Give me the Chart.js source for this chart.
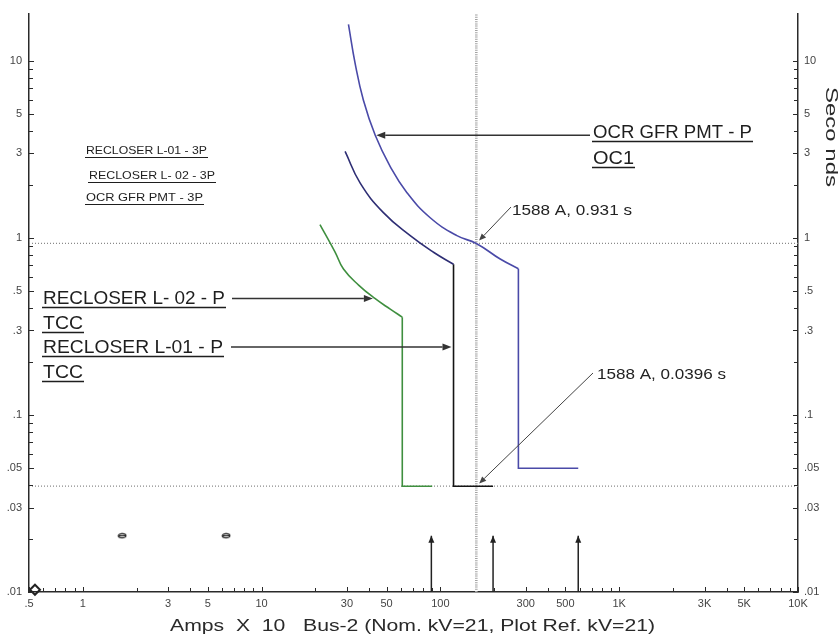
<!DOCTYPE html>
<html>
<head>
<meta charset="utf-8">
<title>TCC - Bus-2</title>
<script src="https://cdn.jsdelivr.net/npm/chart.js@4.4.1/dist/chart.umd.min.js"></script>
<style>
  html, body { margin: 0; padding: 0; background: #fff; }
  canvas { display: block; }
</style>
</head>
<body>
<canvas id="tcc" width="840" height="639"></canvas>
<script>
// ---- axis tick labels (current in Amps x 10, time in seconds) ----
const xTickValues = [0.5, 1, 3, 5, 10, 30, 50, 100, 300, 500, 1000, 3000, 5000, 10000];
const xTickLabels = ['.5', '1', '3', '5', '10', '30', '50', '100', '300', '500', '1K', '3K', '5K', '10K'];
const yTickValues = [0.01, 0.03, 0.05, 0.1, 0.3, 0.5, 1, 3, 5, 10];
const yTickLabels = ['.01', '.03', '.05', '.1', '.3', '.5', '1', '3', '5', '10'];

// ---- relay / recloser curves (Amps x 10, seconds) ----
// inverse-time part up to the knee index, then the definite-time step
const ocrAmps = [30.6, 33.4, 37.1, 43.2, 52.4, 65, 87.7, 123.7, 158.8, 216, 273, 273, 590];
const ocrSecs = [16.1, 9.6, 6.0, 3.8, 2.53, 1.80, 1.30, 1.03, 0.931, 0.76, 0.67, 0.05, 0.05];
const ocrKnee = 10;

const l01Amps = [29.3, 35.6, 48.0, 67.8, 91.5, 118.4, 118.4, 197];
const l01Secs = [3.08, 2.04, 1.39, 1.03, 0.83, 0.71, 0.0396, 0.0396];
const l01Knee = 5;

const l02Amps = [21.2, 25.8, 28.7, 35, 43, 52.4, 61.2, 61.2, 90];
const l02Secs = [1.19, 0.83, 0.667, 0.54, 0.455, 0.396, 0.357, 0.0396, 0.0396];
const l02Knee = 6;

// ---- fault current marker and operating times ----
const faultAmps = 158.8;
const faultSecs = [0.931, 0.0396];

// ---- short-circuit arrows along the current axis ----
const busArrowAmps = [89, 197, 590];
const busArrowSecs = 0.0208;

// ---- small symbols near the bottom ----
const ovalAmps = [1.66, 6.33];
const ovalSecs = [0.0208, 0.0208];
const diamondAmps = [0.54];
const diamondSecs = [0.0103];

// ---- curve names ----
const legendNames = ['RECLOSER L-01 - 3P', 'RECLOSER L- 02 - 3P', 'OCR GFR PMT - 3P'];

const FONT = '"Liberation Sans", Arial, sans-serif';

function pts(xs, ys) { return xs.map((x, i) => ({ x: x, y: ys[i] })); }

function decadeTicks(min, max) {
  const out = [];
  for (let e = Math.floor(Math.log10(min)); e <= Math.ceil(Math.log10(max)); e++) {
    for (let m = 1; m <= 9; m++) {
      const v = +(m * Math.pow(10, e)).toPrecision(6);
      if (v >= min * 0.9999 && v <= max * 1.0001) out.push(v);
    }
  }
  return out;
}
function labelFor(values, labels, v) {
  const i = values.findIndex(t => Math.abs(t - v) / t < 1e-6);
  return i >= 0 ? labels[i] : '';
}

// hollow oval symbol with a bar through it
const ovalImg = (() => {
  const c = document.createElement('canvas');
  c.width = 10; c.height = 7;
  const g = c.getContext('2d');
  g.strokeStyle = '#222'; g.lineWidth = 1.2;
  g.beginPath(); g.ellipse(5, 3.5, 3.8, 2.2, 0, 0, Math.PI * 2); g.stroke();
  g.beginPath(); g.moveTo(1.5, 3.5); g.lineTo(8.5, 3.5); g.stroke();
  return c;
})();

// each curve = smooth inverse part + straight step part
function curve(label, xs, ys, knee, colorCurve, colorStep) {
  const all = pts(xs, ys);
  const base = { showLine: true, pointRadius: 0, borderWidth: 1.6, fill: false, order: 1 };
  return [
    Object.assign({ label: label, data: all.slice(0, knee + 1), borderColor: colorCurve, tension: 0.45 }, base),
    Object.assign({ label: label + ' step', data: all.slice(knee), borderColor: colorStep, tension: 0 }, base)
  ];
}

const datasets = [
  ...curve('OCR GFR PMT - P OC1', ocrAmps, ocrSecs, ocrKnee, '#4a4aa8', '#4a4aa8'),
  ...curve('RECLOSER L-01 - P TCC', l01Amps, l01Secs, l01Knee, '#2e2e74', '#141414'),
  ...curve('RECLOSER L- 02 - P TCC', l02Amps, l02Secs, l02Knee, '#3f8f3f', '#3f8f3f'),
  { label: 'fault current', data: [{ x: faultAmps, y: 0.01 }, { x: faultAmps, y: 18.5 }], showLine: true, pointRadius: 0,
    borderColor: '#a2a2a2', borderWidth: 2.6, borderDash: [1, 1.2], order: 5 },
  ...faultSecs.map(t => ({ label: 'time ' + t, data: [{ x: 0.5, y: t }, { x: 10000, y: t }], showLine: true, pointRadius: 0,
    borderColor: '#8a8a8a', borderWidth: 1.2, borderDash: [1, 2], order: 5 })),
  ...busArrowAmps.map(a => ({ label: 'fault ' + a, data: [{ x: a, y: 0.01 }, { x: a, y: busArrowSecs }], showLine: true, pointRadius: 0,
    borderColor: '#222', borderWidth: 1.5, order: 2 })),
  { label: 'ovals', data: pts(ovalAmps, ovalSecs), showLine: false, pointStyle: ovalImg, pointRadius: 4, order: 2 },
  { label: 'diamond', data: pts(diamondAmps, diamondSecs), showLine: false, pointStyle: 'rectRot', pointRadius: 5,
    borderColor: '#222', borderWidth: 2, backgroundColor: 'rgba(0,0,0,0)', clip: false, order: 2 }
];

function logAxis(extra) {
  return Object.assign({
    type: 'logarithmic',
    border: { display: true, color: '#2a2a2a', width: 1.5 },
    grid: { display: true, drawOnChartArea: false, drawTicks: false },
  }, extra);
}

function drawLabel(g, str, x, baseline, size, width, underline, color) {
  g.save();
  g.font = size + 'px ' + FONT;
  const w = g.measureText(str).width;
  const sx = width / w;
  g.fillStyle = color;
  g.textAlign = 'left';
  g.textBaseline = 'alphabetic';
  g.translate(x, baseline);
  g.scale(sx, 1);
  g.fillText(str, 0, 0);
  g.restore();
  if (underline) {
    g.save();
    g.strokeStyle = color;
    g.lineWidth = size > 14 ? 1.4 : 1;
    g.beginPath();
    g.moveTo(x - 1, baseline + underline);
    g.lineTo(x + width + 1, baseline + underline);
    g.stroke();
    g.restore();
  }
}

function arrow(g, x0, y0, x1, y1, head, half, color, lw) {
  const a = Math.atan2(y1 - y0, x1 - x0);
  const bx = x1 - head * Math.cos(a), by = y1 - head * Math.sin(a);
  g.save();
  g.strokeStyle = color; g.fillStyle = color; g.lineWidth = lw;
  g.beginPath(); g.moveTo(x0, y0); g.lineTo(bx, by); g.stroke();
  g.beginPath();
  g.moveTo(x1, y1);
  g.lineTo(bx - half * Math.sin(a), by + half * Math.cos(a));
  g.lineTo(bx + half * Math.sin(a), by - half * Math.cos(a));
  g.closePath(); g.fill();
  g.restore();
}

const paper = {
  id: 'paper',
  beforeDraw(c) {
    const g = c.ctx;
    g.save(); g.fillStyle = '#fff'; g.fillRect(0, 0, c.width, c.height); g.restore();
  }
};

const overlay = {
  id: 'overlay',
  afterDraw(c) {
    const g = c.ctx;
    const xs = c.scales.x, ys = c.scales.y, yr = c.scales.yRight;
    const area = c.chartArea;
    const ink = '#1e1e1e';

    // tick marks pointing into the plot
    g.save();
    g.strokeStyle = '#2a2a2a'; g.lineWidth = 1;
    xs.ticks.forEach(t => {
      const p = Math.round(xs.getPixelForValue(t.value)) + 0.5;
      const len = labelFor(xTickValues, xTickLabels, t.value) ? 5 : 4;
      g.beginPath(); g.moveTo(p, area.bottom); g.lineTo(p, area.bottom - len); g.stroke();
    });
    ys.ticks.forEach(t => {
      const p = Math.round(ys.getPixelForValue(t.value)) + 0.5;
      const len = labelFor(yTickValues, yTickLabels, t.value) ? 5 : 4;
      g.beginPath(); g.moveTo(area.left, p); g.lineTo(area.left + len, p); g.stroke();
    });
    yr.ticks.forEach(t => {
      const p = Math.round(yr.getPixelForValue(t.value)) + 0.5;
      const len = labelFor(yTickValues, yTickLabels, t.value) ? 5 : 4;
      g.beginPath(); g.moveTo(area.right, p); g.lineTo(area.right - len, p); g.stroke();
    });
    g.restore();

    // arrowheads on the short-circuit markers
    g.save(); g.fillStyle = '#222';
    busArrowAmps.forEach(a => {
      const px = xs.getPixelForValue(a), py = ys.getPixelForValue(busArrowSecs);
      g.beginPath(); g.moveTo(px, py); g.lineTo(px - 3, py + 7); g.lineTo(px + 3, py + 7); g.closePath(); g.fill();
    });
    g.restore();

    // curve names (top-left)
    drawLabel(g, legendNames[0], 86, 154, 11, 121, 3.5, ink);
    drawLabel(g, legendNames[1], 89, 179, 11, 126, 3.5, ink);
    drawLabel(g, legendNames[2], 86, 201, 11, 117, 3.5, ink);

    // callout: OCR GFR PMT - P / OC1
    const ocrTipX = xs.getPixelForValue(ocrAmps[3]), ocrTipY = ys.getPixelForValue(ocrSecs[3]);
    arrow(g, 590, ocrTipY, ocrTipX + 1, ocrTipY, 9, 3.5, '#333', 1.5);
    drawLabel(g, 'OCR GFR PMT - P', 593, 138, 18, 159, 3.5, ink);
    drawLabel(g, 'OC1', 593, 164, 18, 41, 3.5, ink);

    // callout: RECLOSER L- 02 - P / TCC
    const l02TipX = xs.getPixelForValue(l02Amps[4]), l02TipY = ys.getPixelForValue(l02Secs[4]);
    arrow(g, 232, l02TipY, l02TipX - 2, l02TipY, 9, 3.5, '#333', 1.5);
    drawLabel(g, 'RECLOSER L- 02 - P', 43, 304, 18, 182, 3.5, ink);
    drawLabel(g, 'TCC', 43, 329, 18, 40, 3.5, ink);

    // callout: RECLOSER L-01 - P / TCC (points at the instantaneous drop)
    const l01TipX = xs.getPixelForValue(l01Amps[l01Knee]);
    arrow(g, 231, 347, l01TipX - 2, 347, 9, 3.5, '#333', 1.5);
    drawLabel(g, 'RECLOSER L-01 - P', 43, 353, 18, 180, 3.5, ink);
    drawLabel(g, 'TCC', 43, 378, 18, 40, 3.5, ink);

    // operating-time readouts at the fault current
    const fx = xs.getPixelForValue(faultAmps);
    const readouts = [
      { sx: 511, sy: 207, tx: 512, tb: 215, w: 120 },
      { sx: 593, sy: 373, tx: 597, tb: 379, w: 129 }
    ];
    faultSecs.forEach((t, i) => {
      const r = readouts[i];
      const fy = ys.getPixelForValue(t);
      const d = Math.hypot(fx - r.sx, fy - r.sy);
      const ex = fx - (fx - r.sx) / d * 4, ey = fy - (fy - r.sy) / d * 4;
      arrow(g, r.sx, r.sy, ex, ey, 7, 3, '#444', 1);
      drawLabel(g, Math.round(faultAmps * 10) + ' A, ' + t + ' s', r.tx, r.tb, 15, r.w, 0, '#222');
    });

    // axis titles
    drawLabel(g, 'Amps  X  10   Bus-2 (Nom. kV=21, Plot Ref. kV=21)', 170, 631, 16, 485, 0, '#2a2a2a');
    g.save();
    g.font = '16px ' + FONT;
    const tw = g.measureText('Seco nds').width;
    g.translate(826, 87);
    g.rotate(Math.PI / 2);
    g.scale(100 / tw, 1);
    g.fillStyle = '#2a2a2a';
    g.textBaseline = 'alphabetic';
    g.fillText('Seco nds', 0, 0);
    g.restore();
  }
};

new Chart(document.getElementById('tcc'), {
  type: 'scatter',
  data: { datasets: datasets },
  options: {
    responsive: false,
    animation: false,
    events: [],
    layout: { padding: { top: 9, left: 0, right: 0, bottom: 0 } },
    plugins: { legend: { display: false }, tooltip: { enabled: false } },
    scales: {
      x: logAxis({
        position: 'bottom', min: 0.5, max: 10000,
        afterBuildTicks: s => { s.ticks = decadeTicks(s.min, s.max).map(v => ({ value: v })); },
        afterFit: s => { s.height = 47; },
        ticks: { autoSkip: false, maxRotation: 0, minRotation: 0, padding: 5, color: '#444',
          font: { family: FONT, size: 11 },
          callback: v => labelFor(xTickValues, xTickLabels, v) }
      }),
      y: logAxis({
        position: 'left', min: 0.01, max: 18.5,
        afterBuildTicks: s => { s.ticks = decadeTicks(s.min, s.max).map(v => ({ value: v })); },
        afterFit: s => { s.width = 29; },
        ticks: { autoSkip: false, padding: 7, color: '#444', font: { family: FONT, size: 11 },
          callback: v => labelFor(yTickValues, yTickLabels, v) }
      }),
      yRight: logAxis({
        axis: 'y', position: 'right', min: 0.01, max: 18.5,
        afterBuildTicks: s => { s.ticks = decadeTicks(s.min, s.max).map(v => ({ value: v })); },
        afterFit: s => { s.width = 42; },
        ticks: { autoSkip: false, padding: 6, color: '#444', font: { family: FONT, size: 11 },
          callback: v => labelFor(yTickValues, yTickLabels, v) }
      })
    }
  },
  plugins: [paper, overlay]
});
</script>
</body>
</html>
